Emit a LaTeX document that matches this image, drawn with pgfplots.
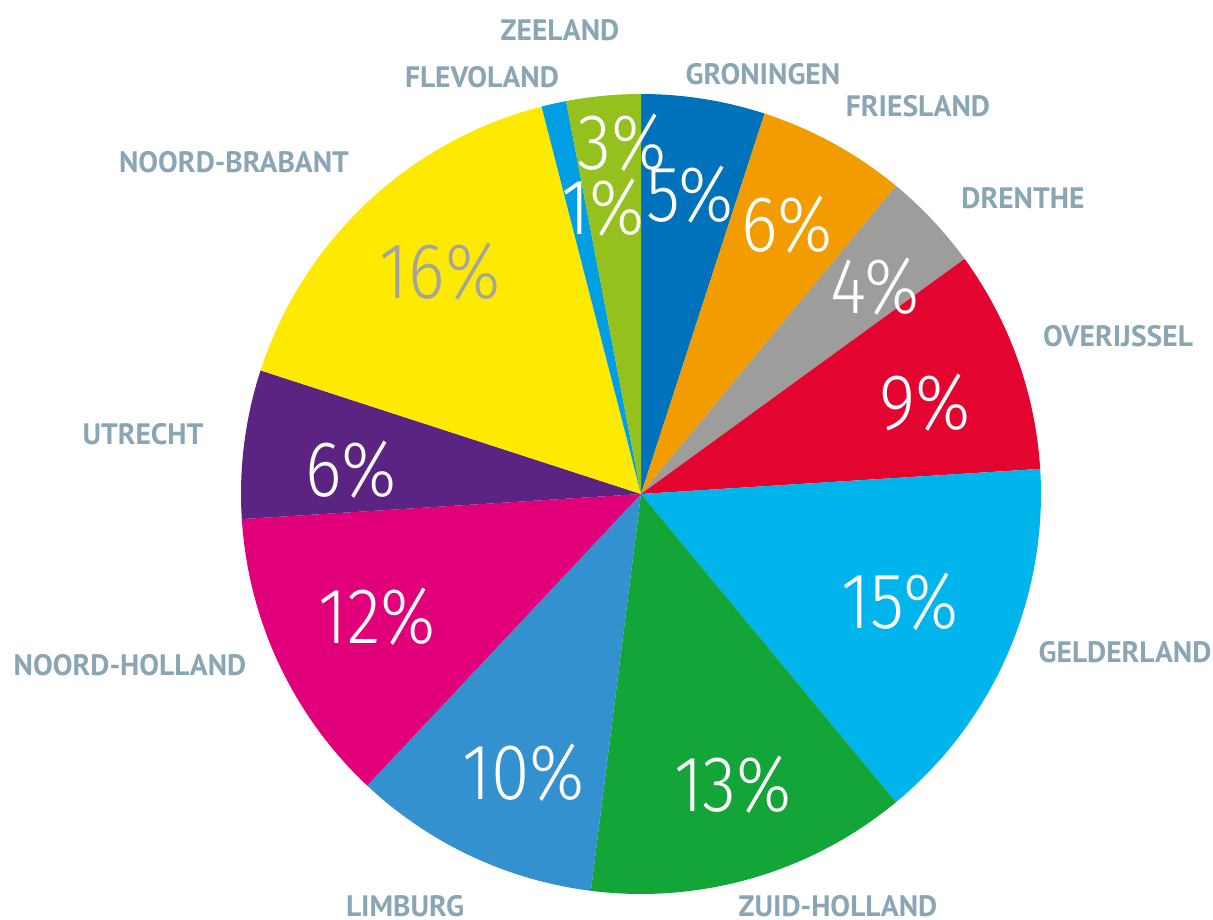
\documentclass[border=0pt]{standalone}
\usepackage{pgfplots}
\pgfplotsset{compat=1.18}
\usepackage{pgfplotstable}
\usepackage{fontspec}
\setmainfont{PT Sans}
\newfontfamily\pctfont{Fira Sans Light}
\definecolor{lab}{HTML}{8AA5B3}
\definecolor{cgro}{HTML}{0071BB}
\definecolor{cfri}{HTML}{F39C00}
\definecolor{cdre}{HTML}{9D9D9C}
\definecolor{cove}{HTML}{E30530}
\definecolor{cgel}{HTML}{00B5EC}
\definecolor{czui}{HTML}{13A538}
\definecolor{clim}{HTML}{3391CF}
\definecolor{cnho}{HTML}{E2007A}
\definecolor{cutr}{HTML}{5B2483}
\definecolor{cnbr}{HTML}{FDEA00}
\definecolor{cfle}{HTML}{009FE3}
\definecolor{czee}{HTML}{95C11F}
\definecolor{pwhite}{HTML}{FFFFFF}
\definecolor{pgray}{HTML}{A3A3A0}

\pgfplotstableread[col sep=comma]{
name,value,fill,tcol,lx,ly,px,py
GRONINGEN,5,cgro,pwhite,1.22,4.20,0.49,2.99
FRIESLAND,6,cfri,pwhite,2.77,3.88,1.46,2.69
DRENTHE,4,cdre,pwhite,3.82,2.96,2.34,2.07
OVERIJSSEL,9,cove,pwhite,4.77,1.58,2.84,0.91
GELDERLAND,15,cgel,pwhite,4.84,-1.58,2.59,-1.08
ZUID-HOLLAND,13,czui,pwhite,1.97,-4.12,0.92,-2.91
LIMBURG,10,clim,pwhite,-2.36,-4.12,-1.17,-2.79
NOORD-HOLLAND,12,cnho,pwhite,-5.11,-1.71,-2.64,-1.23
UTRECHT,6,cutr,pwhite,-4.98,0.60,-2.90,0.24
NOORD-BRABANT,16,cnbr,pgray,-4.07,3.32,-2.01,2.22
FLEVOLAND,1,cfle,pwhite,-1.59,4.17,-0.38,2.86
ZEELAND,3,czee,pwhite,-0.81,4.64,-0.19,3.51
}\provdata

\begin{document}
\begin{tikzpicture}
\begin{axis}[
  x=1cm, y=1cm,
  xmin=-6.41, xmax=5.72, ymin=-4.25, ymax=4.94,
  hide axis, clip=false,
]
\coordinate (bl) at (axis cs:-6.41,-4.25);
\coordinate (tr) at (axis cs:5.72,4.94);
\def\cum{0}
\pgfplotsforeachungrouped \i in {0,...,11}{%
  \pgfplotstablegetelem{\i}{value}\of\provdata \let\v\pgfplotsretval
  \pgfplotstablegetelem{\i}{fill}\of\provdata \let\fc\pgfplotsretval
  \pgfmathsetmacro\sa{90-3.6*\cum}%
  \pgfmathsetmacro\ea{90-3.6*(\cum+\v)}%
  \pgfmathsetmacro\sx{4*cos(\sa)}%
  \pgfmathsetmacro\sy{4*sin(\sa)}%
  \edef\temp{\noexpand\fill[\fc] (axis cs:0,0) -- (axis cs:\sx,\sy) arc[start angle=\sa, end angle=\ea, radius=4cm] -- cycle;}%
  \temp
  \pgfmathsetmacro\newcum{\cum+\v}%
  \global\let\cum\newcum
}
\pgfplotsforeachungrouped \i in {0,...,11}{%
  \pgfplotstablegetelem{\i}{value}\of\provdata \let\v\pgfplotsretval
  \pgfplotstablegetelem{\i}{name}\of\provdata \let\nm\pgfplotsretval
  \pgfplotstablegetelem{\i}{tcol}\of\provdata \let\tc\pgfplotsretval
  \pgfplotstablegetelem{\i}{lx}\of\provdata \let\lx\pgfplotsretval
  \pgfplotstablegetelem{\i}{ly}\of\provdata \let\ly\pgfplotsretval
  \pgfplotstablegetelem{\i}{px}\of\provdata \let\px\pgfplotsretval
  \pgfplotstablegetelem{\i}{py}\of\provdata \let\py\pgfplotsretval
  \edef\temp{\noexpand\node[text=lab, font=\noexpand\fontsize{8.4}{10}\noexpand\selectfont\noexpand\bfseries] at (axis cs:\lx,\ly) {\nm};
    \noexpand\node[text=\tc, font=\noexpand\fontsize{22.5}{25}\noexpand\pctfont] at (axis cs:\px,\py) {\noexpand\scalebox{0.88}[1]{\v\noexpand\%}};}%
  \temp
}
\end{axis}
\pgfresetboundingbox
\path[use as bounding box] (bl) rectangle (tr);
\end{tikzpicture}
\end{document}
